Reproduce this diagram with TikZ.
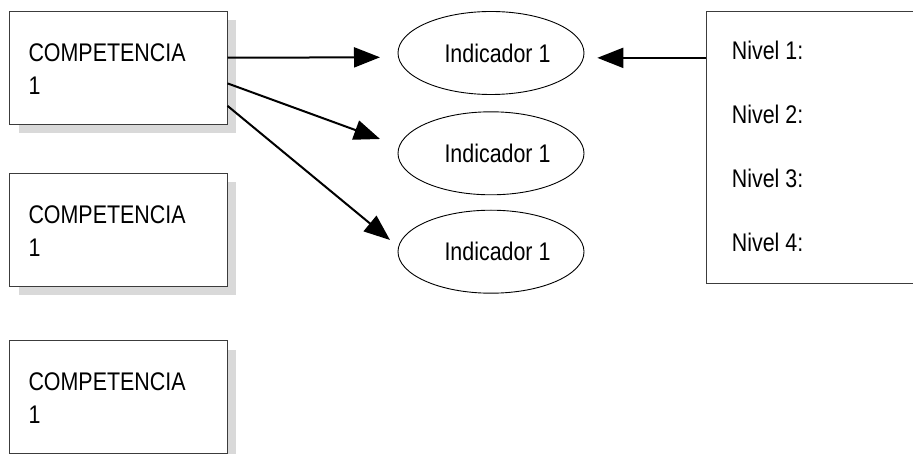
\documentclass[tikz,border=0pt]{standalone}
\usepackage{fontspec}
\setmainfont{Liberation Sans}[FakeStretch=0.84]
\usetikzlibrary{arrows.meta,shapes.geometric,calc,shadows}
\definecolor{shadowgray}{HTML}{D9D9D9}
\definecolor{edgegray}{HTML}{3C3C3C}
\begin{document}
\begin{tikzpicture}[x=1pt,y=-1pt,
  txt/.style={font=\fontsize{25.5}{33}\selectfont, inner sep=0pt, align=left},
  nivtxt/.style={font=\fontsize{25.5}{63.7}\selectfont, inner sep=0pt, align=left},
  compbox/.style={draw=edgegray, line width=1pt, fill=white, minimum width=217.5pt,
    minimum height=113pt, inner sep=0pt, anchor=north west,
    drop shadow={shadow xshift=9pt, shadow yshift=-9pt, fill=shadowgray, opacity=1}},
  indic/.style={ellipse, draw=black, line width=0.9pt, minimum width=186pt,
    minimum height=83pt, inner sep=0pt},
  nivbox/.style={draw=edgegray, line width=1pt, minimum width=230pt,
    minimum height=272pt, inner sep=0pt, anchor=north west},
  arr/.style={line width=2pt, -{Triangle[length=26pt,width=20pt]}}]
\useasboundingbox (0,0) rectangle (913,454);
\clip (0,0) rectangle (913,454);
% competence boxes
\node[compbox] (c1) at (9,11) {};
\node[compbox] (c2) at (9,173) {};
\node[compbox] (c3) at (9,340) {};
\node[txt, anchor=base west] (c1t) at (28.3,94.7) {COMPETENCIA\\1};
\node[txt, anchor=base west] (c2t) at (28.3,256.5) {COMPETENCIA\\1};
\node[txt, anchor=base west] (c3t) at (28.3,423.5) {COMPETENCIA\\1};
% indicators
\node[indic, label={[txt, xshift=6.5pt]center:Indicador 1}] (i1) at (491,53) {};
\node[indic, label={[txt, xshift=6.5pt]center:Indicador 1}] (i2) at (491,153.3) {};
\node[indic, label={[txt, xshift=6.5pt]center:Indicador 1}] (i3) at (491,251.7) {};
% levels box
\node[nivbox] (niv) at (705.7,11) {};
\node[nivtxt, anchor=base west] (nivt) at (731.7,251.1) {Nivel 1:\\Nivel 2:\\Nivel 3:\\Nivel 4:};
% arrow tips
\coordinate (t1) at (380,57.3);
\coordinate (t2) at (380,139);
\coordinate (t3) at (390,240);
\draw[arr] ($(c1.north east)!0.41!(c1.south east)$) -- (t1);
\draw[arr] ($(c1.north east)!0.635!(c1.south east)$) -- (t2);
\draw[arr] ($(c1.north east)!0.832!(c1.south east)$) -- (t3);
\draw[arr, shorten >=13.5pt] (niv.west |- i1.-3.1) -- (i1.-3.1);
\end{tikzpicture}
\end{document}
